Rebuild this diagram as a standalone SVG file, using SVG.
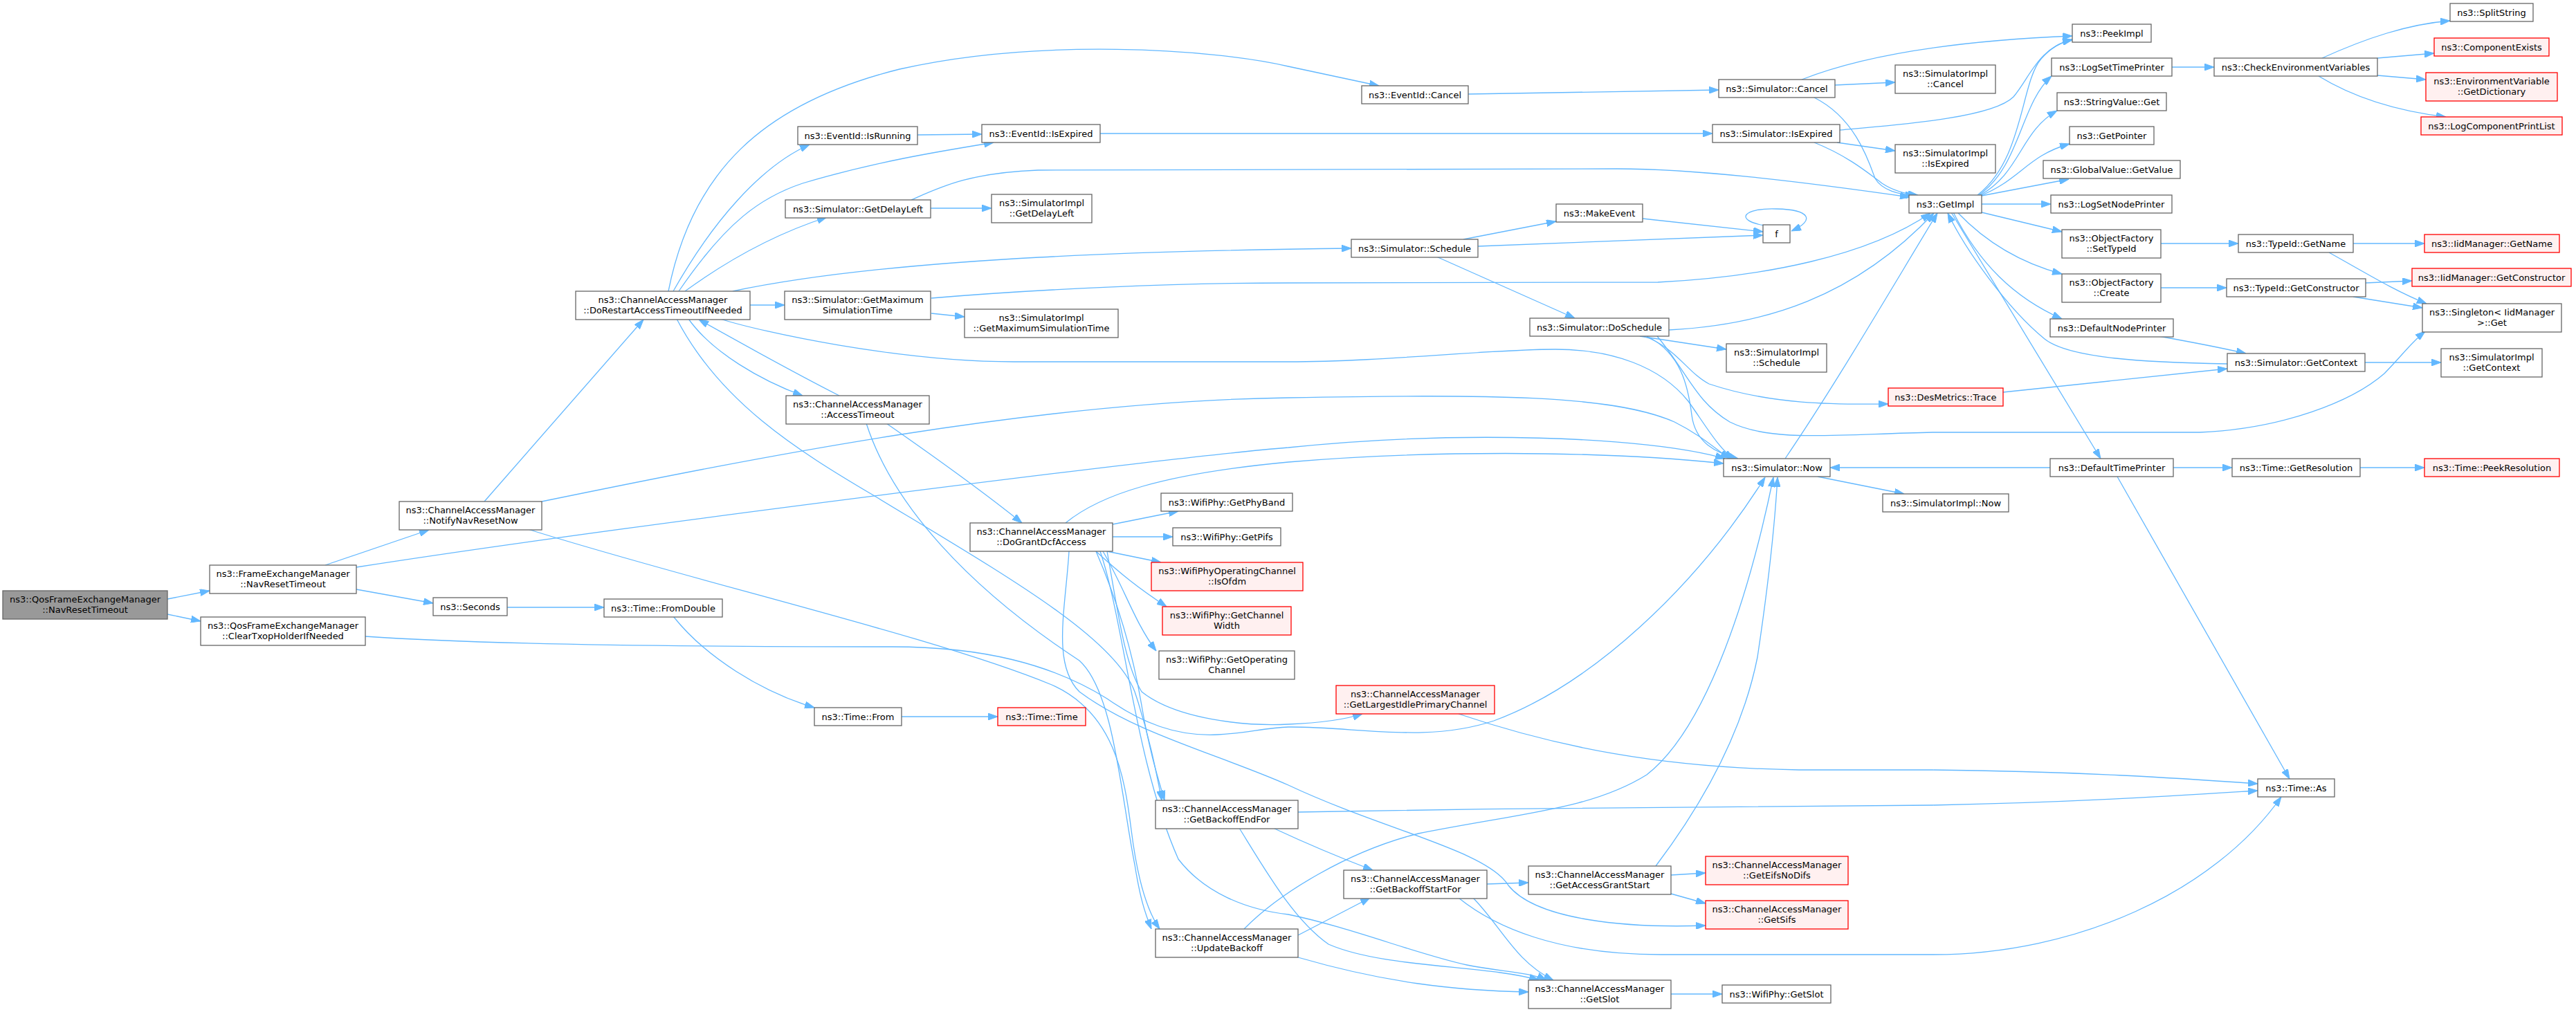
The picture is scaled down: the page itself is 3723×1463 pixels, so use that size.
<svg xmlns="http://www.w3.org/2000/svg" width="3723" height="1463" viewBox="0 0 3723 1463">
<style>
rect{fill:#ffffff;stroke:#666666;stroke-width:1.3}
.r rect{fill:#fff0f0;stroke:#ff0000}
.g rect{fill:#999999;stroke:#666666}
text{font-family:"DejaVu Sans","Liberation Sans",sans-serif;font-size:13px;text-anchor:middle;fill:#000000}
#edges path{fill:none;stroke:#63b8ff;stroke-width:1.3;marker-end:url(#a)}
</style>
<defs>
<marker id="a" viewBox="0 0 14 10" refX="14" refY="5" markerWidth="14" markerHeight="10" markerUnits="userSpaceOnUse" orient="auto">
<path d="M0,0 L14,5 L0,10 z" fill="#63b8ff" stroke="#63b8ff" stroke-width="1"/>
</marker>
</defs>
<rect x="0" y="0" width="3723" height="1463" style="fill:#ffffff;stroke:none"/>
<g id="edges">
<path d="M242,866 L303,854"/>
<path d="M242,888 L290,898"/>
<path d="M470,817 L620,766"/>
<path d="M515,852 L626,872"/>
<path d="M515,820 C900,760 1700,660 1862,647 C2100,622 2380,630 2493,663"/>
<path d="M528,920 C700,932 1000,935 1290,935 C1420,935 1520,960 1600,1010 C1650,1045 1700,1065 1760,1062 C1800,1060 1830,1052 1862,1051 C1960,1050 2060,1075 2159,1042 C2300,990 2450,850 2551,690"/>
<path d="M700,725 L930,462"/>
<path d="M783,725 C1100,660 1500,580 1862,575 C2150,570 2330,570 2420,610 C2460,630 2480,650 2500,663"/>
<path d="M763,765 C1000,840 1350,920 1520,990 C1610,1030 1625,1120 1635,1200 C1645,1280 1660,1320 1676,1343"/>
<path d="M966,421 C1000,250 1100,150 1300,100 C1500,55 1750,70 1862,96 L1993,124"/>
<path d="M973,421 C1030,320 1100,240 1170,209"/>
<path d="M981,421 C1050,320 1100,285 1160,265 C1260,235 1350,220 1436,206"/>
<path d="M990,421 C1060,370 1130,335 1195,314"/>
<path d="M1059,421 C1300,370 1700,362 1953,359"/>
<path d="M1084,441 L1134,441"/>
<path d="M1041,461 C1100,480 1300,523 1465,523 L1862,523 C2000,523 2150,505 2248,505 C2330,505 2400,530 2440,580 C2465,615 2485,650 2506,663"/>
<path d="M995,461 C1030,510 1100,550 1160,572"/>
<path d="M1213,572 C1150,540 1060,490 1010,462"/>
<path d="M978,461 C1040,580 1150,650 1264,717 C1450,830 1610,920 1640,1000 C1660,1060 1670,1110 1679,1157"/>
<path d="M1346,431 C1500,418 1700,409 1862,409 L2396,408 C2550,400 2700,370 2790,308"/>
<path d="M1346,453 L1394,458"/>
<path d="M1326,195 L1419,194"/>
<path d="M1590,193 L2475,193"/>
<path d="M1317,289 C1360,270 1400,250 1500,246 L2337,244 C2450,244 2600,262 2760,285"/>
<path d="M1345,301 L1433,301"/>
<path d="M1281,612 C1350,660 1420,710 1477,756"/>
<path d="M1252,612 C1290,730 1400,850 1560,955 C1610,1000 1620,1150 1640,1250 C1648,1300 1655,1320 1664,1343"/>
<path d="M1540,756 C1590,715 1680,685 1862,668 C2050,652 2300,650 2491,670"/>
<path d="M1608,758 L1703,739"/>
<path d="M1608,776 L1695,776"/>
<path d="M1600,797 L1678,813"/>
<path d="M1584,797 C1620,830 1645,850 1686,877"/>
<path d="M1594,797 C1625,850 1640,900 1671,941"/>
<path d="M1600,797 C1615,880 1625,960 1650,1000 C1700,1040 1800,1050 1862,1047 C1910,1045 1945,1040 1969,1032"/>
<path d="M1584,797 C1620,880 1640,960 1650,1020 C1660,1080 1672,1120 1683,1157"/>
<path d="M1545,797 C1540,880 1520,960 1560,1000 C1640,1060 1760,1090 1862,1135 C2000,1200 2150,1230 2180,1280 C2220,1330 2350,1342 2465,1338"/>
<path d="M1590,797 C1625,900 1640,1100 1703,1242 C1740,1290 1800,1315 1862,1322 C1950,1340 2050,1380 2120,1395 C2170,1405 2210,1405 2235,1417"/>
<path d="M1876,1174 C2200,1168 2600,1164 2793,1164 C3000,1160 3150,1150 3263,1143"/>
<path d="M1840,1197 C1900,1225 1950,1245 1984,1258"/>
<path d="M1791,1197 C1830,1260 1870,1330 1920,1365 C2000,1400 2150,1395 2224,1417"/>
<path d="M1876,1352 L1980,1298"/>
<path d="M1876,1384 C2000,1420 2100,1432 2209,1434"/>
<path d="M1798,1343 C1850,1290 1950,1230 2050,1205 C2200,1175 2300,1170 2380,1120 C2470,1050 2530,850 2563,690"/>
<path d="M2393,1252 C2470,1150 2520,1050 2540,950 C2555,850 2565,760 2569,690"/>
<path d="M2149,1278 L2209,1276"/>
<path d="M2108,1298 C2160,1340 2250,1380 2400,1380 L2793,1380 C3000,1380 3200,1290 3297,1152"/>
<path d="M2129,1298 C2170,1340 2190,1390 2245,1417"/>
<path d="M2415,1265 L2465,1262"/>
<path d="M2415,1292 L2465,1306"/>
<path d="M2415,1437 L2489,1437"/>
<path d="M2108,1032 C2250,1080 2400,1110 2600,1113 L2793,1113 C3000,1115 3150,1125 3263,1133"/>
<path d="M733,878 L873,878"/>
<path d="M973,891 C1020,950 1100,1000 1177,1023"/>
<path d="M1303,1036 L1442,1036"/>
<path d="M2122,136 L2484,130"/>
<path d="M2652,123 L2739,119"/>
<path d="M2622,141 C2680,170 2700,230 2710,258 C2720,275 2745,282 2768,282"/>
<path d="M2604,115 C2680,85 2800,60 2995,52"/>
<path d="M2655,206 L2739,218"/>
<path d="M2622,206 C2670,225 2700,250 2720,265 C2735,275 2750,280 2772,282"/>
<path d="M2659,188 C2750,180 2880,170 2910,140 C2935,110 2945,70 2995,57"/>
<path d="M2115,346 L2249,320"/>
<path d="M2136,356 L2548,340"/>
<path d="M2076,371 L2276,460"/>
<path d="M2374,316 L2548,335"/>
<path d="M2550,326 C2505,318 2520,300 2568,302 C2615,303 2625,318 2589,334"/>
<path d="M2412,477 C2550,470 2680,430 2795,308"/>
<path d="M2580,663 C2650,560 2720,440 2800,308"/>
<path d="M2370,486 C2410,492 2450,498 2495,505"/>
<path d="M2375,486 C2420,500 2440,540 2470,555 C2560,585 2650,585 2729,584"/>
<path d="M2380,486 C2430,510 2440,560 2445,600 C2450,640 2480,655 2512,663"/>
<path d="M2395,486 C2440,540 2450,580 2500,610 C2560,640 2650,628 2793,625 L3179,625 C3300,620 3400,580 3446,540 C3475,510 3485,495 3505,479"/>
<path d="M3418,524 L3528,524"/>
<path d="M3219,526 C3100,524 2990,518 2955,490 C2900,445 2840,360 2815,308"/>
<path d="M2820,307 L3036,663"/>
<path d="M2858,282 C2925,230 2920,120 2950,85 C2965,68 2980,60 2995,58"/>
<path d="M2860,282 C2920,240 2920,150 2965,110"/>
<path d="M2862,282 C2920,250 2920,190 2973,160"/>
<path d="M2862,283 C2920,260 2930,225 2991,208"/>
<path d="M2864,283 L2990,259"/>
<path d="M2864,295 L2964,295"/>
<path d="M2864,307 L2980,335"/>
<path d="M2829,307 C2870,350 2920,380 2980,396"/>
<path d="M2823,307 C2860,380 2910,430 2980,461"/>
<path d="M3120,486 C3170,495 3220,505 3246,511"/>
<path d="M2895,567 L3219,533"/>
<path d="M3139,97 L3200,97"/>
<path d="M3356,84 C3420,55 3480,35 3541,30"/>
<path d="M3436,84 L3518,77"/>
<path d="M3436,109 L3506,115"/>
<path d="M3351,110 C3400,140 3460,160 3535,169"/>
<path d="M3123,352 L3235,352"/>
<path d="M3401,352 L3504,352"/>
<path d="M3366,365 C3420,395 3460,420 3507,439"/>
<path d="M3123,416 L3218,416"/>
<path d="M3419,409 L3486,406"/>
<path d="M3401,429 L3501,445"/>
<path d="M2963,676 L2645,676"/>
<path d="M3141,676 L3226,676"/>
<path d="M3411,676 L3504,676"/>
<path d="M3060,689 L3309,1126"/>
<path d="M2627,689 L2752,714"/>
</g>
<g id="n1" class="g"><rect x="4" y="854" width="238" height="41"/><text x="123" y="871">ns3::QosFrameExchangeManager</text><text x="123" y="886">::NavResetTimeout</text></g>
<g id="n2"><rect x="303" y="817" width="212" height="41"/><text x="409" y="834">ns3::FrameExchangeManager</text><text x="409" y="849">::NavResetTimeout</text></g>
<g id="n3"><rect x="290" y="892" width="238" height="41"/><text x="409" y="909">ns3::QosFrameExchangeManager</text><text x="409" y="924">::ClearTxopHolderIfNeeded</text></g>
<g id="n4"><rect x="577" y="725" width="206" height="41"/><text x="680" y="742">ns3::ChannelAccessManager</text><text x="680" y="757">::NotifyNavResetNow</text></g>
<g id="n5"><rect x="626" y="864" width="107" height="26"/><text x="679.5" y="882">ns3::Seconds</text></g>
<g id="n6"><rect x="873" y="866" width="171" height="26"/><text x="958.5" y="884">ns3::Time::FromDouble</text></g>
<g id="n7"><rect x="832" y="421" width="252" height="41"/><text x="958" y="438">ns3::ChannelAccessManager</text><text x="958" y="453">::DoRestartAccessTimeoutIfNeeded</text></g>
<g id="n8"><rect x="1153" y="183" width="173" height="26"/><text x="1239.5" y="201">ns3::EventId::IsRunning</text></g>
<g id="n9"><rect x="1419" y="180" width="171" height="26"/><text x="1504.5" y="198">ns3::EventId::IsExpired</text></g>
<g id="n10"><rect x="1135" y="289" width="210" height="26"/><text x="1240" y="307">ns3::Simulator::GetDelayLeft</text></g>
<g id="n11"><rect x="1433" y="281" width="145" height="41"/><text x="1505.5" y="298">ns3::SimulatorImpl</text><text x="1505.5" y="313">::GetDelayLeft</text></g>
<g id="n12"><rect x="1134" y="421" width="211" height="41"/><text x="1239.5" y="438">ns3::Simulator::GetMaximum</text><text x="1239.5" y="453">SimulationTime</text></g>
<g id="n13"><rect x="1394" y="447" width="222" height="41"/><text x="1505" y="464">ns3::SimulatorImpl</text><text x="1505" y="479">::GetMaximumSimulationTime</text></g>
<g id="n14"><rect x="1136" y="572" width="207" height="41"/><text x="1239.5" y="589">ns3::ChannelAccessManager</text><text x="1239.5" y="604">::AccessTimeout</text></g>
<g id="n15"><rect x="1402" y="756" width="206" height="41"/><text x="1505" y="773">ns3::ChannelAccessManager</text><text x="1505" y="788">::DoGrantDcfAccess</text></g>
<g id="n16"><rect x="1678" y="713" width="190" height="26"/><text x="1773" y="731">ns3::WifiPhy::GetPhyBand</text></g>
<g id="n17"><rect x="1695" y="763" width="156" height="26"/><text x="1773" y="781">ns3::WifiPhy::GetPifs</text></g>
<g id="n18" class="r"><rect x="1664" y="813" width="219" height="41"/><text x="1773.5" y="830">ns3::WifiPhyOperatingChannel</text><text x="1773.5" y="845">::IsOfdm</text></g>
<g id="n19" class="r"><rect x="1680" y="877" width="186" height="41"/><text x="1773" y="894">ns3::WifiPhy::GetChannel</text><text x="1773" y="909">Width</text></g>
<g id="n20"><rect x="1675" y="941" width="196" height="41"/><text x="1773" y="958">ns3::WifiPhy::GetOperating</text><text x="1773" y="973">Channel</text></g>
<g id="n21"><rect x="1177" y="1023" width="126" height="26"/><text x="1240" y="1041">ns3::Time::From</text></g>
<g id="n22" class="r"><rect x="1442" y="1023" width="127" height="26"/><text x="1505.5" y="1041">ns3::Time::Time</text></g>
<g id="n23"><rect x="1670" y="1157" width="206" height="41"/><text x="1773" y="1174">ns3::ChannelAccessManager</text><text x="1773" y="1189">::GetBackoffEndFor</text></g>
<g id="n24"><rect x="1670" y="1343" width="206" height="41"/><text x="1773" y="1360">ns3::ChannelAccessManager</text><text x="1773" y="1375">::UpdateBackoff</text></g>
<g id="n25"><rect x="1968" y="124" width="154" height="26"/><text x="2045" y="142">ns3::EventId::Cancel</text></g>
<g id="n26"><rect x="2484" y="115" width="168" height="26"/><text x="2568" y="133">ns3::Simulator::Cancel</text></g>
<g id="n27"><rect x="2475" y="180" width="184" height="26"/><text x="2567" y="198">ns3::Simulator::IsExpired</text></g>
<g id="n28"><rect x="2739" y="94" width="145" height="41"/><text x="2811.5" y="111">ns3::SimulatorImpl</text><text x="2811.5" y="126">::Cancel</text></g>
<g id="n29"><rect x="2739" y="209" width="145" height="41"/><text x="2811.5" y="226">ns3::SimulatorImpl</text><text x="2811.5" y="241">::IsExpired</text></g>
<g id="n30"><rect x="2759" y="282" width="105" height="26"/><text x="2811.5" y="300">ns3::GetImpl</text></g>
<g id="n31"><rect x="2249" y="295" width="125" height="26"/><text x="2311.5" y="313">ns3::MakeEvent</text></g>
<g id="n32"><rect x="2548" y="325" width="39" height="26"/><text x="2567.5" y="343">f</text></g>
<g id="n33"><rect x="1953" y="346" width="183" height="26"/><text x="2044.5" y="364">ns3::Simulator::Schedule</text></g>
<g id="n34"><rect x="2211" y="460" width="201" height="26"/><text x="2311.5" y="478">ns3::Simulator::DoSchedule</text></g>
<g id="n35"><rect x="2495" y="497" width="145" height="41"/><text x="2567.5" y="514">ns3::SimulatorImpl</text><text x="2567.5" y="529">::Schedule</text></g>
<g id="n36" class="r"><rect x="2729" y="561" width="166" height="26"/><text x="2812" y="579">ns3::DesMetrics::Trace</text></g>
<g id="n37"><rect x="2491" y="663" width="154" height="26"/><text x="2568" y="681">ns3::Simulator::Now</text></g>
<g id="n38"><rect x="2721" y="714" width="182" height="26"/><text x="2812" y="732">ns3::SimulatorImpl::Now</text></g>
<g id="n39" class="r"><rect x="1931" y="991" width="229" height="41"/><text x="2045.5" y="1008">ns3::ChannelAccessManager</text><text x="2045.5" y="1023">::GetLargestIdlePrimaryChannel</text></g>
<g id="n40"><rect x="1942" y="1258" width="207" height="41"/><text x="2045.5" y="1275">ns3::ChannelAccessManager</text><text x="2045.5" y="1290">::GetBackoffStartFor</text></g>
<g id="n41"><rect x="2209" y="1252" width="206" height="41"/><text x="2312" y="1269">ns3::ChannelAccessManager</text><text x="2312" y="1284">::GetAccessGrantStart</text></g>
<g id="n42" class="r"><rect x="2465" y="1238" width="206" height="41"/><text x="2568" y="1255">ns3::ChannelAccessManager</text><text x="2568" y="1270">::GetEifsNoDifs</text></g>
<g id="n43" class="r"><rect x="2465" y="1302" width="206" height="41"/><text x="2568" y="1319">ns3::ChannelAccessManager</text><text x="2568" y="1334">::GetSifs</text></g>
<g id="n44"><rect x="2209" y="1417" width="206" height="41"/><text x="2312" y="1434">ns3::ChannelAccessManager</text><text x="2312" y="1449">::GetSlot</text></g>
<g id="n45"><rect x="2489" y="1424" width="157" height="26"/><text x="2567.5" y="1442">ns3::WifiPhy::GetSlot</text></g>
<g id="n46"><rect x="2995" y="35" width="114" height="26"/><text x="3052" y="53">ns3::PeekImpl</text></g>
<g id="n47"><rect x="2965" y="84" width="174" height="26"/><text x="3052" y="102">ns3::LogSetTimePrinter</text></g>
<g id="n48"><rect x="2973" y="134" width="158" height="26"/><text x="3052" y="152">ns3::StringValue::Get</text></g>
<g id="n49"><rect x="2991" y="183" width="122" height="26"/><text x="3052" y="201">ns3::GetPointer</text></g>
<g id="n50"><rect x="2953" y="232" width="198" height="26"/><text x="3052" y="250">ns3::GlobalValue::GetValue</text></g>
<g id="n51"><rect x="2964" y="282" width="175" height="26"/><text x="3051.5" y="300">ns3::LogSetNodePrinter</text></g>
<g id="n52"><rect x="2980" y="332" width="143" height="41"/><text x="3051.5" y="349">ns3::ObjectFactory</text><text x="3051.5" y="364">::SetTypeId</text></g>
<g id="n53"><rect x="2980" y="396" width="143" height="41"/><text x="3051.5" y="413">ns3::ObjectFactory</text><text x="3051.5" y="428">::Create</text></g>
<g id="n54"><rect x="2963" y="461" width="178" height="26"/><text x="3052" y="479">ns3::DefaultNodePrinter</text></g>
<g id="n55"><rect x="3200" y="84" width="236" height="26"/><text x="3318" y="102">ns3::CheckEnvironmentVariables</text></g>
<g id="n56"><rect x="3541" y="5" width="120" height="26"/><text x="3601" y="23">ns3::SplitString</text></g>
<g id="n57" class="r"><rect x="3518" y="55" width="166" height="26"/><text x="3601" y="73">ns3::ComponentExists</text></g>
<g id="n58" class="r"><rect x="3506" y="105" width="190" height="41"/><text x="3601" y="122">ns3::EnvironmentVariable</text><text x="3601" y="137">::GetDictionary</text></g>
<g id="n59" class="r"><rect x="3499" y="169" width="204" height="26"/><text x="3601" y="187">ns3::LogComponentPrintList</text></g>
<g id="n60"><rect x="3235" y="339" width="166" height="26"/><text x="3318" y="357">ns3::TypeId::GetName</text></g>
<g id="n61" class="r"><rect x="3504" y="339" width="195" height="26"/><text x="3601.5" y="357">ns3::IidManager::GetName</text></g>
<g id="n62"><rect x="3218" y="403" width="201" height="26"/><text x="3318.5" y="421">ns3::TypeId::GetConstructor</text></g>
<g id="n63" class="r"><rect x="3486" y="388" width="230" height="26"/><text x="3601" y="406">ns3::IidManager::GetConstructor</text></g>
<g id="n64"><rect x="3501" y="439" width="201" height="41"/><text x="3601.5" y="456">ns3::Singleton&lt; IidManager</text><text x="3601.5" y="471"> &gt;::Get</text></g>
<g id="n65"><rect x="3219" y="511" width="199" height="26"/><text x="3318.5" y="529">ns3::Simulator::GetContext</text></g>
<g id="n66"><rect x="3528" y="504" width="146" height="41"/><text x="3601" y="521">ns3::SimulatorImpl</text><text x="3601" y="536">::GetContext</text></g>
<g id="n67"><rect x="2963" y="663" width="178" height="26"/><text x="3052" y="681">ns3::DefaultTimePrinter</text></g>
<g id="n68"><rect x="3226" y="663" width="185" height="26"/><text x="3318.5" y="681">ns3::Time::GetResolution</text></g>
<g id="n69" class="r"><rect x="3504" y="663" width="195" height="26"/><text x="3601.5" y="681">ns3::Time::PeekResolution</text></g>
<g id="n70"><rect x="3263" y="1126" width="111" height="26"/><text x="3318.5" y="1144">ns3::Time::As</text></g>
</svg>
